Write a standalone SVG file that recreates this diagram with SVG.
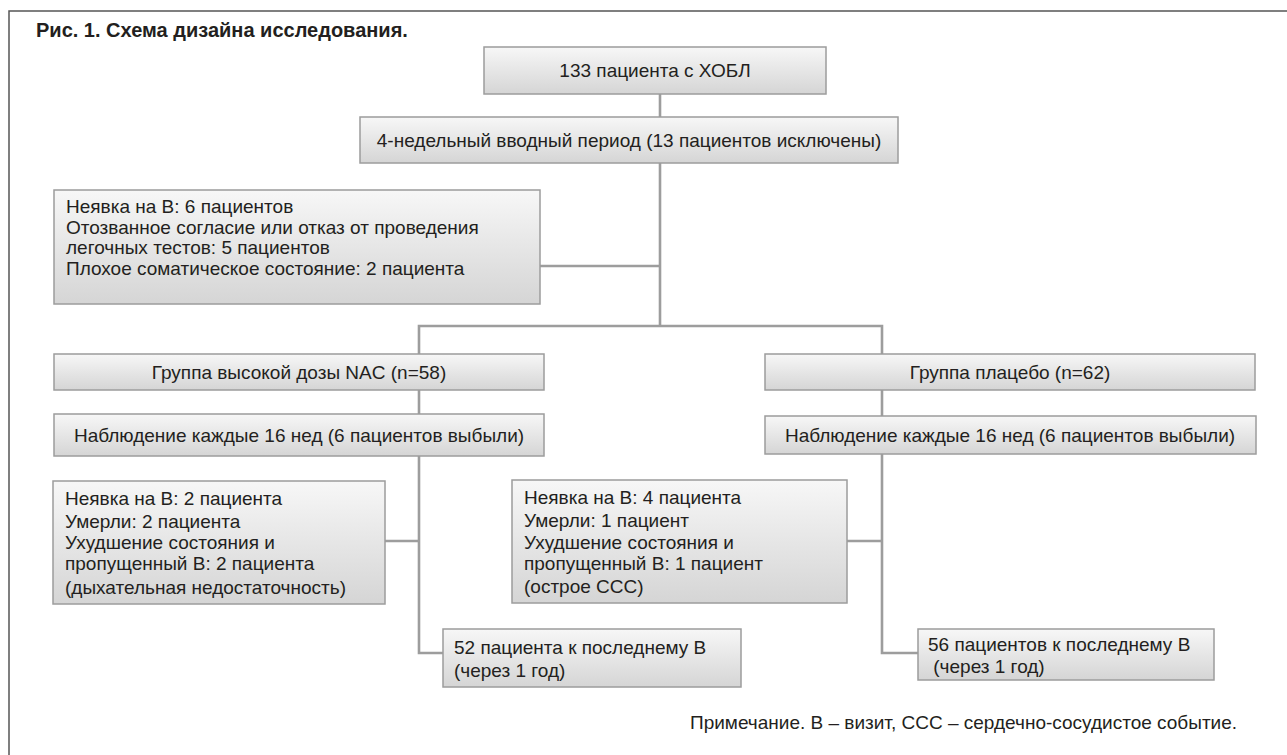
<svg xmlns="http://www.w3.org/2000/svg" width="1287" height="755" viewBox="0 0 1287 755">
<style>
.box{fill:url(#g);stroke:#9c9c9c;stroke-width:1.5}
.t{font-family:"Liberation Sans",Arial,sans-serif;font-size:19px;fill:#231f20}
.c{text-anchor:middle}
.ln{fill:none;stroke:#9d9d9d;stroke-width:2.6}
</style>
<defs>
<linearGradient id="g" x1="0" y1="0" x2="0" y2="1">
<stop offset="0" stop-color="#f7f7f7"/>
<stop offset="1" stop-color="#d5d5d5"/>
</linearGradient>
</defs>
<rect x="0" y="0" width="1287" height="755" fill="#fff"/>
<path d="M9,760 V11 H1290" fill="none" stroke="#555" stroke-width="1.5"/>
<text x="36" y="37" font-family="Liberation Sans,Arial,sans-serif" font-size="20" font-weight="bold" fill="#231f20">Рис. 1. Схема дизайна исследования.</text>
<g id="connectors">
<path class="ln" d="M660,94 V117"/>
<path class="ln" d="M660,163 V326"/>
<path class="ln" d="M540,266 H660"/>
<path class="ln" d="M419,354 V326 H882 V354"/>
<path class="ln" d="M419,390 V414"/>
<path class="ln" d="M882,390 V416"/>
<path class="ln" d="M419,456 V653 H443"/>
<path class="ln" d="M882,454 V653 H918"/>
<path class="ln" d="M385,541 H419"/>
<path class="ln" d="M847,541 H882"/>
</g>
<g id="n1"><rect class="box" x="484" y="47" width="342" height="47"/><text class="t c" x="655" y="77">133 пациента с ХОБЛ</text></g>
<g id="n2"><rect class="box" x="360" y="117" width="538" height="46"/><text class="t c" x="629" y="147">4-недельный вводный период (13 пациентов исключены)</text></g>
<g id="n3"><rect class="box" x="54" y="190" width="486" height="114"/>
<text class="t" x="66" y="213">Неявка на В: 6 пациентов</text>
<text class="t" x="66" y="233.5">Отозванное согласие или отказ от проведения</text>
<text class="t" x="66" y="254">легочных тестов: 5 пациентов</text>
<text class="t" x="66" y="274.5">Плохое соматическое состояние: 2 пациента</text></g>
<g id="n4"><rect class="box" x="54" y="354" width="490" height="36"/><text class="t c" x="299" y="379">Группа высокой дозы NAC (n=58)</text></g>
<g id="n5"><rect class="box" x="765" y="354" width="490" height="36"/><text class="t c" x="1010" y="379">Группа плацебо (n=62)</text></g>
<g id="n6"><rect class="box" x="54" y="414" width="490" height="42"/><text class="t c" x="299" y="442">Наблюдение каждые 16 нед (6 пациентов выбыли)</text></g>
<g id="n7"><rect class="box" x="765" y="416" width="491" height="38"/><text class="t c" x="1010" y="442">Наблюдение каждые 16 нед (6 пациентов выбыли)</text></g>
<g id="n8"><rect class="box" x="53" y="481" width="332" height="123"/>
<text class="t" x="65" y="505">Неявка на В: 2 пациента</text>
<text class="t" x="65" y="528">Умерли: 2 пациента</text>
<text class="t" x="65" y="549">Ухудшение состояния и</text>
<text class="t" x="65" y="570">пропущенный В: 2 пациента</text>
<text class="t" x="65" y="594">(дыхательная недостаточность)</text></g>
<g id="n9"><rect class="box" x="512" y="480" width="335" height="123"/>
<text class="t" x="524" y="504">Неявка на В: 4 пациента</text>
<text class="t" x="524" y="527">Умерли: 1 пациент</text>
<text class="t" x="524" y="549">Ухудшение состояния и</text>
<text class="t" x="524" y="570">пропущенный В: 1 пациент</text>
<text class="t" x="524" y="593">(острое ССС)</text></g>
<g id="n10"><rect class="box" x="443" y="629" width="298" height="58"/>
<text class="t" x="454" y="654">52 пациента к последнему В</text>
<text class="t" x="454" y="677">(через 1 год)</text></g>
<g id="n11"><rect class="box" x="918" y="629" width="296" height="51"/>
<text class="t" x="928" y="651">56 пациентов к последнему В</text>
<text class="t" x="928" y="673" xml:space="preserve"> (через 1 год)</text></g>
<text class="t" x="690" y="729">Примечание. В – визит, ССС – сердечно-сосудистое событие.</text>
</svg>
